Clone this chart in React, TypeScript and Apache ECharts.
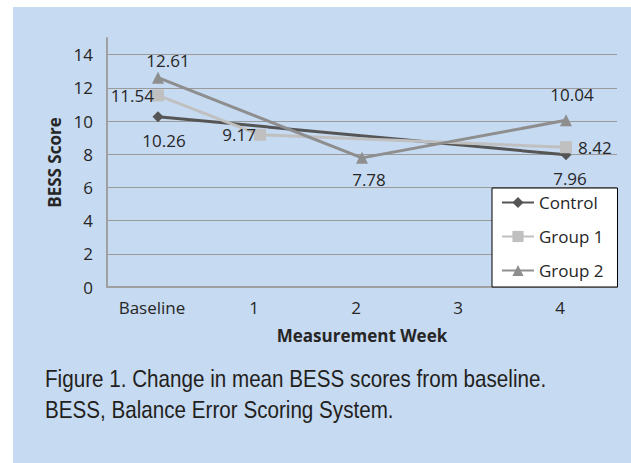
import React, { useEffect, useRef } from "react";
import * as echarts from "echarts";

const categories = ["Baseline", "1", "2", "3", "4"];
const controlValues: (number | null)[] = [10.26, null, null, null, 7.96];
const group1Values: (number | null)[] = [11.54, 9.17, null, null, 8.42];
const group2Values: (number | null)[] = [12.61, null, 7.78, null, 10.04];
const yTicks = { min: 0, max: 15, interval: 2 };
const captionLines = [
  "Figure 1. Change in mean BESS scores from baseline.",
  "BESS, Balance Error Scoring System.",
];

const FONT = "'Open Sans', 'Noto Sans', sans-serif";
const TXT = "#262626";
const FS = 17;

type LabelCfg = { position: string; distance: number; offset: [number, number] };

function buildData(values: (number | null)[], labels: (LabelCfg | null)[]) {
  return values.map((v, i) => {
    if (v == null) return null;
    const l = labels[i];
    return {
      value: v,
      label: l
        ? { show: true, position: l.position, distance: l.distance, offset: l.offset }
        : { show: false },
    };
  });
}

export default function App() {
  const ref = useRef<HTMLDivElement>(null);
  useEffect(() => {
    if (!ref.current) return;
    const chart = echarts.init(ref.current, null, { renderer: "svg" });
    const labelStyle = {
      show: true,
      color: TXT,
      fontSize: FS,
      fontFamily: FONT,
      formatter: (p: any) => Number(p.value).toFixed(2),
    };
    const controlLabels: (LabelCfg | null)[] = [
      { position: "bottom", distance: 10, offset: [6, 0] },
      null,
      null,
      null,
      { position: "bottom", distance: 10, offset: [4, 0] },
    ];
    const group1Labels: (LabelCfg | null)[] = [
      { position: "left", distance: -2, offset: [0, 0] },
      { position: "left", distance: -2, offset: [0, 0] },
      null,
      null,
      { position: "right", distance: 6, offset: [0, 0] },
    ];
    const group2Labels: (LabelCfg | null)[] = [
      { position: "top", distance: 3, offset: [10, 0] },
      null,
      { position: "bottom", distance: 7, offset: [7, 0] },
      null,
      { position: "top", distance: 11, offset: [6, 0] },
    ];
    const captionFont = "24px 'Liberation Sans', Arial, sans-serif";
    chart.setOption({
      animation: false,
      backgroundColor: "#c6daf1",
      textStyle: { fontFamily: FONT },
      graphic: captionLines.map((line, i) => ({
        type: "text",
        x: 32,
        y: 372 + i * 31,
        scaleX: 0.86,
        silent: true,
        style: {
          text: line,
          font: captionFont,
          fill: "#231f20",
          verticalAlign: "middle",
          align: "left",
        },
      })),
      grid: { left: 94, top: 31, width: 510, height: 249, containLabel: false },
      legend: {
        orient: "vertical",
        left: 479,
        top: 181,
        backgroundColor: "#ffffff",
        borderColor: "#000000",
        borderWidth: 1,
        borderRadius: 0,
        padding: [6, 14, 8, 9],
        itemWidth: 32,
        itemHeight: 14,
        itemGap: 17,
        itemTextGap: 10,
        textStyle: { color: TXT, fontSize: FS, fontFamily: FONT },
        data: ["Control", "Group 1", "Group 2"],
      },
      xAxis: {
        type: "category",
        data: categories,
        boundaryGap: true,
        name: "Measurement Week",
        nameLocation: "middle",
        nameGap: 40,
        nameTextStyle: { color: TXT, fontSize: FS, fontWeight: "bold", fontFamily: FONT },
        axisLine: { show: true, lineStyle: { color: "#a0a0a0", width: 2 } },
        axisTick: { show: false },
        axisLabel: { color: TXT, fontSize: FS, margin: 12, fontFamily: FONT, padding: [0, 12, 0, 0] },
        splitLine: { show: false },
      },
      yAxis: {
        type: "value",
        min: yTicks.min,
        max: yTicks.max,
        interval: yTicks.interval,
        name: "BESS Score",
        nameLocation: "middle",
        nameGap: 44,
        nameRotate: 90,
        nameTextStyle: { color: TXT, fontSize: FS, fontWeight: "bold", fontFamily: FONT },
        axisLine: { show: true, lineStyle: { color: "#a0a0a0", width: 2 } },
        axisTick: { show: false },
        axisLabel: { color: TXT, fontSize: FS, margin: 14, fontFamily: FONT, showMaxLabel: false },
        splitLine: { show: true, showMaxLine: false, lineStyle: { color: "#9a9a9a", width: 1 } },
      },
      series: [
        {
          name: "Control",
          type: "line",
          connectNulls: true,
          data: buildData(controlValues, controlLabels),
          symbol: "diamond",
          symbolSize: 11,
          color: "#555555",
          lineStyle: { width: 3, color: "#555555" },
          itemStyle: { color: "#555555" },
          label: labelStyle,
        },
        {
          name: "Group 1",
          type: "line",
          connectNulls: true,
          data: buildData(group1Values, group1Labels),
          symbol: "rect",
          symbolSize: 12,
          color: "#c0c0c0",
          lineStyle: { width: 3, color: "#c0c0c0" },
          itemStyle: { color: "#c0c0c0" },
          label: labelStyle,
        },
        {
          name: "Group 2",
          type: "line",
          connectNulls: true,
          data: buildData(group2Values, group2Labels),
          symbol: "triangle",
          symbolSize: 12,
          color: "#8e8e8e",
          lineStyle: { width: 3, color: "#8e8e8e" },
          itemStyle: { color: "#8e8e8e" },
          label: labelStyle,
        },
      ],
    });
    return () => chart.dispose();
  }, []);
  return (
    <div
      ref={ref}
      style={{ position: "fixed", left: 13, top: 7, width: 618, height: 456 }}
    />
  );
}
